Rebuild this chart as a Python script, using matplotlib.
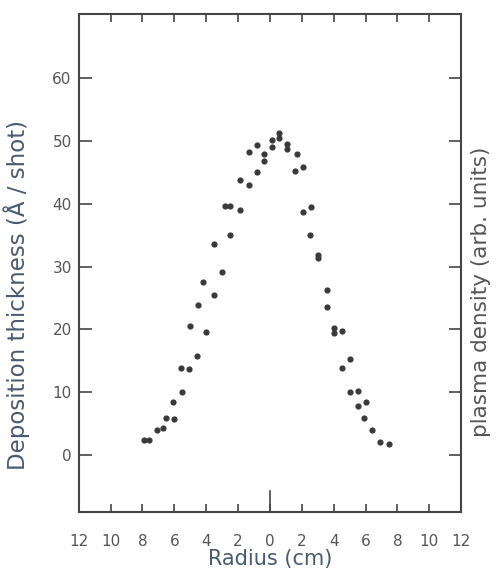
import matplotlib.pyplot as plt
import numpy as np

# radius (cm), negative = left of centre
radius = np.array([-7.9, -7.6, -7.1, -6.7, -6.5, -6.0, -6.1, -5.5, -5.6, -5.1,
                   -4.6, -4.0, -5.0, -4.5, -3.5, -4.2, -3.0, -3.5, -2.5, -2.8,
                   -2.5, -1.9, -1.9, -1.3, -0.8, -1.3, -0.8, -0.4, -0.4, 0.1,
                   0.1, 0.6, 0.6, 1.1, 1.1, 1.7, 1.6, 2.1, 2.1, 2.6,
                   2.5, 3.0, 3.0, 3.6, 3.6, 4.0, 4.0, 4.5, 5.0, 4.5,
                   5.0, 5.5, 5.5, 6.0, 5.9, 6.4, 6.9, 7.5])
# deposition thickness (A/shot)
thickness = np.array([2.4, 2.4, 3.9, 4.3, 5.8, 5.7, 8.4, 10.0, 13.9, 13.7,
                      15.8, 19.5, 20.5, 23.9, 25.4, 27.6, 29.1, 33.6, 35.1, 39.7,
                      39.7, 39.0, 43.8, 43.0, 45.0, 48.3, 49.4, 47.9, 46.9, 50.1,
                      49.1, 51.3, 50.5, 49.6, 48.8, 47.9, 45.2, 45.8, 38.7, 39.5,
                      35.1, 31.9, 31.3, 26.2, 23.5, 20.2, 19.4, 19.7, 15.3, 13.9,
                      10.0, 10.1, 7.7, 8.4, 5.8, 3.9, 2.1, 1.7])

xticks = np.arange(-12, 13, 2)
xticklabels = [str(abs(t)) for t in xticks]
yticks = [0, 10, 20, 30, 40, 50, 60]

frame = '#444444'
txt = '#555555'

fig = plt.figure(figsize=(4.98, 5.75), dpi=100)
ax = fig.add_axes([0.158, 0.110, 0.768, 0.866])

ax.scatter(radius, thickness, s=20, color='#3a3a3a', zorder=3, linewidths=0)

ax.set_xlim(-12, 12)
ax.set_ylim(-9.1, 70.3)

ax.set_xticks(xticks)
ax.set_xticklabels(xticklabels, fontsize=11, color=txt)
ax.set_yticks(yticks)
ax.tick_params(axis='y', labelsize=11, labelcolor=txt)
ax.tick_params(direction='in', color=frame, width=1.2)
ax.tick_params(axis='x', length=6, pad=16, top=True)
ax.tick_params(axis='y', length=9, pad=5, right=True)

# longer tick at the centre
ax.plot([0, 0], [0, 0.042], transform=ax.get_xaxis_transform(),
        color=frame, lw=1.2, clip_on=False)

for s in ax.spines.values():
    s.set_color(frame)
    s.set_linewidth(1.5)

ax.set_xlabel('Radius (cm)', fontsize=15, color='#4a5a70')
ax.xaxis.set_label_coords(0.5, -0.074)
ax.set_ylabel('Deposition thickness (Å / shot)', fontsize=16.5,
              color='#4a5a70')
ax.yaxis.set_label_coords(-0.128, 0.435)

fig.text(0.966, 0.492, 'plasma density (arb. units)', rotation=90,
         fontsize=15.5, color=txt, ha='center', va='center')

fig.savefig('out.png', dpi=100)
